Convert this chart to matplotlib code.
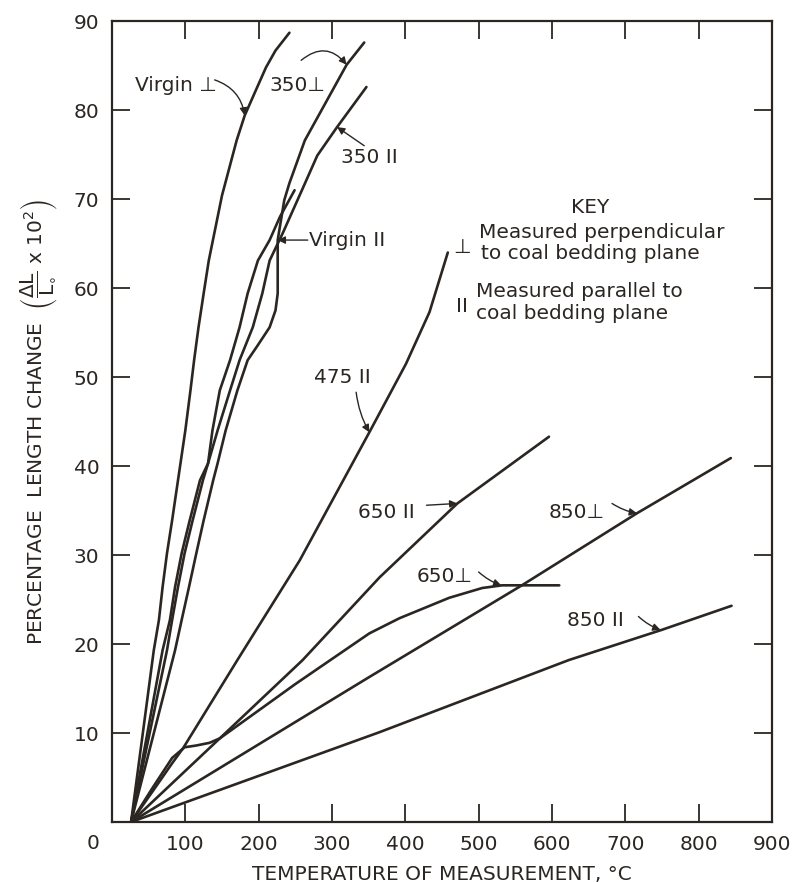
import matplotlib
matplotlib.use('Agg')
import matplotlib.pyplot as plt

plt.rcParams['font.family'] = ['DejaVu Sans']
plt.rcParams['mathtext.fontset'] = 'dejavusans'
plt.rcParams['mathtext.default'] = 'regular'

INK = '#2b2622'

# curvas: temperatura (C) vs cambio de longitud (%)
virgin_perp_x = [26, 57, 64, 69, 75, 82, 90, 100, 107, 112, 118, 125, 132, 150, 170, 181, 196, 210, 223, 242]
virgin_perp_y = [0, 19.3, 22.7, 26.4, 30.2, 33.9, 38.4, 44.0, 48.5, 51.9, 55.6, 59.4, 63.1, 70.4, 76.6, 79.4, 82.2, 84.8, 86.7, 88.7]

virgin_par_x = [26, 75, 82, 90, 99, 110, 124, 131, 137, 147, 161, 174, 185, 199, 215, 229, 249]
virgin_par_y = [0, 19.3, 22.7, 26.4, 30.2, 33.9, 38.4, 40.3, 44.0, 48.5, 51.9, 55.6, 59.4, 63.1, 65.4, 68.0, 71.0]

t350_par_x = [26, 69, 79, 86, 95, 106, 120, 131, 144, 161, 174, 192, 205, 215, 233, 259, 280, 307, 347]
t350_par_y = [0, 19.3, 22.7, 26.4, 30.2, 33.9, 38.4, 40.3, 44.0, 48.5, 51.9, 55.6, 59.4, 63.1, 66.2, 71.0, 74.9, 78.1, 82.6]

t350_perp_x = [26, 86, 95, 105, 115, 125, 138, 144, 155, 171, 185, 199, 215, 223, 226, 226, 226, 235, 242, 263, 320, 344]
t350_perp_y = [0, 19.3, 22.7, 26.4, 30.2, 33.9, 38.4, 40.3, 44.0, 48.5, 51.9, 53.6, 55.6, 57.5, 59.4, 63.1, 65.4, 69.9, 71.8, 76.6, 85.1, 87.6]

t475_par_x = [26, 55, 82, 97, 171, 256, 351, 401, 433, 458]
t475_par_y = [0, 3.4, 6.6, 8.3, 18.2, 29.4, 43.8, 51.5, 57.3, 64.0]

t650_par_x = [26, 147, 260, 365, 471, 596]
t650_par_y = [0, 9.4, 18.2, 27.5, 35.8, 43.3]

t650_perp_x = [26, 55, 82, 99, 115, 133, 147, 250, 351, 392, 460, 505, 532, 610]
t650_perp_y = [0, 3.8, 7.2, 8.4, 8.6, 8.9, 9.4, 15.5, 21.2, 22.9, 25.2, 26.3, 26.6, 26.6]

t850_perp_x = [26, 351, 559, 716, 844]
t850_perp_y = [0, 16.3, 26.6, 34.7, 40.9]

t850_par_x = [26, 365, 623, 750, 845]
t850_par_y = [0, 10.1, 18.2, 21.6, 24.3]

curvas = [
    (virgin_perp_x, virgin_perp_y),
    (virgin_par_x, virgin_par_y),
    (t350_par_x, t350_par_y),
    (t350_perp_x, t350_perp_y),
    (t475_par_x, t475_par_y),
    (t650_par_x, t650_par_y),
    (t650_perp_x, t650_perp_y),
    (t850_perp_x, t850_perp_y),
    (t850_par_x, t850_par_y),
]

# etiquetas: texto, posicion del texto, inicio y punta de la flecha, curvatura
etiquetas = [
    ('Virgin \u22a5', (31, 82.8), (140, 83.4), (181, 79.4), -0.3),
    ('350\u22a5', (215, 82.8), (258, 85.6), (320, 85.1), -0.5),
    ('350 II', (313, 74.7), (344, 76.0), (307, 78.1), 0.0),
    ('Virgin II', (269, 65.4), (267, 65.4), (226, 65.4), 0.0),
    ('475 II', (276, 49.9), (333, 48.3), (351, 43.8), 0.1),
    ('650 II', (335, 34.8), (429, 35.6), (471, 35.8), 0.0),
    ('850\u22a5', (596, 34.8), (682, 35.8), (716, 34.7), 0.1),
    ('650\u22a5', (415, 27.6), (500, 28.1), (531, 26.6), 0.1),
    ('850 II', (620, 22.6), (718, 23.1), (748, 21.6), 0.1),
]

fig = plt.figure(figsize=(7.96, 8.82), dpi=100)
ax = fig.add_axes([0.1407, 0.068, 0.829, 0.908])

for xs, ys in curvas:
    ax.plot(xs, ys, color=INK, lw=1.9, solid_capstyle='round', solid_joinstyle='round')

for txt, pos, ini, fin, rad in etiquetas:
    ax.text(pos[0], pos[1], txt, fontsize=14.5, color=INK, ha='left', va='center')
    ax.annotate('', xy=fin, xytext=ini,
                arrowprops=dict(arrowstyle='-|>', lw=1.0, color=INK, mutation_scale=11,
                                shrinkA=0, shrinkB=0, connectionstyle='arc3,rad=%s' % rad))

# clave
ax.text(652, 69.1, 'KEY', fontsize=14.5, color=INK, ha='center', va='center')
ax.text(478, 64.6, '\u22a5', fontsize=14.5, color=INK, ha='center', va='center')
ax.text(501, 66.3, 'Measured perpendicular', fontsize=14.5, color=INK, ha='left', va='center')
ax.text(503, 63.9, 'to coal bedding plane', fontsize=14.5, color=INK, ha='left', va='center')
ax.text(478, 57.9, 'II', fontsize=14.5, color=INK, ha='center', va='center')
ax.text(497, 59.6, 'Measured parallel to', fontsize=14.5, color=INK, ha='left', va='center')
ax.text(497, 57.2, 'coal bedding plane', fontsize=14.5, color=INK, ha='left', va='center')

ax.set_xlim(0, 900)
ax.set_ylim(0, 90)
ax.set_xticks(range(100, 1000, 100))
ax.set_yticks(range(10, 100, 10))
ax.tick_params(direction='in', length=13, width=1.3, colors=INK, labelsize=14.5,
               top=True, right=True, labeltop=False, labelright=False, pad=9)
ax.text(-26, -2.4, '0', fontsize=14.5, color=INK, ha='center', va='center', clip_on=False)

for s in ax.spines.values():
    s.set_linewidth(1.6)
    s.set_color(INK)

ax.set_xlabel('TEMPERATURE OF MEASUREMENT, \u00b0C', fontsize=14.5, color=INK, labelpad=8)
ax.set_ylabel(r'PERCENTAGE  LENGTH CHANGE  $\left(\dfrac{\Delta L}{L_{\circ}}\ x\ 10^{2}\right)$',
              fontsize=14.5, color=INK, labelpad=10)

fig.savefig('out.png', dpi=100)
